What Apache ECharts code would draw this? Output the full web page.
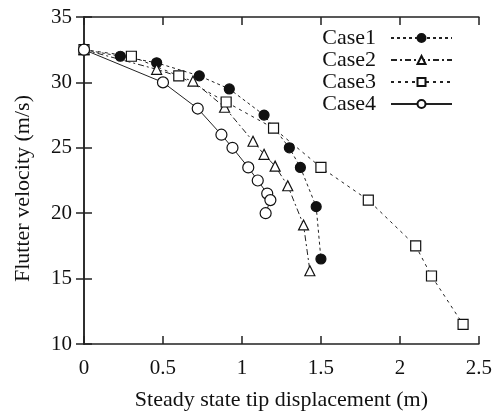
<!DOCTYPE html>
<html>
<head>
<meta charset="utf-8">
<script src="https://cdn.jsdelivr.net/npm/echarts@6/dist/echarts.min.js"></script>
<style>html,body{margin:0;padding:0;background:#fff}#c{width:495px;height:416px}</style>
</head>
<body>
<div id="c"></div>
<script>
const seriesNames = ['Case1', 'Case2', 'Case3', 'Case4'];
const case1X = [0, 0.23, 0.46, 0.73, 0.92, 1.14, 1.30, 1.37, 1.47, 1.50];
const case1Y = [32.5, 32.0, 31.5, 30.5, 29.5, 27.5, 25.0, 23.5, 20.5, 16.5];
const case2X = [0, 0.46, 0.69, 0.89, 1.07, 1.14, 1.21, 1.29, 1.39, 1.43];
const case2Y = [32.5, 31.0, 30.1, 28.1, 25.5, 24.5, 23.6, 22.1, 19.1, 15.6];
const case3X = [0, 0.30, 0.60, 0.90, 1.20, 1.50, 1.80, 2.10, 2.20, 2.40];
const case3Y = [32.5, 32.0, 30.5, 28.5, 26.5, 23.5, 21.0, 17.5, 15.2, 11.5];
const case4X = [0, 0.50, 0.72, 0.87, 0.94, 1.04, 1.10, 1.16, 1.18, 1.15];
const case4Y = [32.5, 30.0, 28.0, 26.0, 25.0, 23.5, 22.5, 21.5, 21.0, 20.0];
const xTicks = [0, 0.5, 1, 1.5, 2, 2.5];
const yTicks = [10, 15, 20, 25, 30, 35];

const FONT = "'Liberation Serif', 'Times New Roman', serif";
const zip = (xs, ys) => xs.map((x, i) => [x, ys[i]]);

const axisCommon = {
  axisLine: { show: true, lineStyle: { color: '#222', width: 1.5 } },
  axisTick: { show: true, inside: true, length: 8, lineStyle: { color: '#222', width: 1.5 } },
  splitLine: { show: false }
};

const styles = [
  { data: zip(case1X, case1Y), symbol: 'circle', size: 10, fill: '#111', dash: [3, 3] },
  { data: zip(case2X, case2Y), symbol: 'triangle', size: 10, fill: '#fff', dash: [6, 3, 2, 3] },
  { data: zip(case3X, case3Y), symbol: 'rect', size: 10, fill: '#fff', dash: [3, 4] },
  { data: zip(case4X, case4Y), symbol: 'circle', size: 11, fill: '#fff', dash: 'solid' }
];

const series = styles.map((s, i) => ({
  name: seriesNames[i],
  type: 'line',
  data: s.data,
  symbol: s.symbol,
  symbolSize: s.size,
  showAllSymbol: true,
  lineStyle: { color: '#222', width: 1, type: s.dash },
  itemStyle: { color: s.fill, borderColor: '#111', borderWidth: 1.2 },
  emphasis: { disabled: true },
  z: 3
}));

const chart = echarts.init(document.getElementById('c'));
chart.setOption({
  animation: false,
  backgroundColor: '#fff',
  grid: { left: 84, right: 13, top: 17, bottom: 69 },
  legend: {
    data: seriesNames,
    orient: 'vertical',
    right: 42,
    top: 27,
    padding: 0,
    align: 'right',
    itemWidth: 61,
    itemHeight: 10,
    itemGap: 0,
    textStyle: { fontFamily: FONT, fontSize: 22, color: '#111', lineHeight: 22, padding: [0, 10, 0, 0] }
  },
  xAxis: [
    Object.assign({
      type: 'value', min: 0, max: 2.5, interval: 0.5, position: 'bottom',
      name: 'Steady state tip displacement (m)', nameLocation: 'middle', nameGap: 45,
      nameTextStyle: { fontFamily: FONT, fontSize: 22, color: '#111' },
      axisLabel: { fontFamily: FONT, fontSize: 21, color: '#111', margin: 14,
        formatter: v => (xTicks.indexOf(v) >= 0 ? String(v) : '') }
    }, axisCommon),
    Object.assign({
      type: 'value', min: 0, max: 2.5, interval: 0.5, position: 'top',
      axisLabel: { show: false }
    }, axisCommon)
  ],
  yAxis: [
    Object.assign({
      type: 'value', min: 10, max: 35, interval: 5, position: 'left',
      name: 'Flutter velocity (m/s)', nameLocation: 'middle', nameGap: 50,
      nameTextStyle: { fontFamily: FONT, fontSize: 22, color: '#111', padding: [0, 16, 0, 0] },
      axisLabel: { fontFamily: FONT, fontSize: 21, color: '#111', margin: 12,
        formatter: v => (yTicks.indexOf(v) >= 0 ? String(v) : '') }
    }, axisCommon),
    Object.assign({
      type: 'value', min: 10, max: 35, interval: 5, position: 'right',
      axisLabel: { show: false }
    }, axisCommon)
  ],
  series: series
});
</script>
</body>
</html>
